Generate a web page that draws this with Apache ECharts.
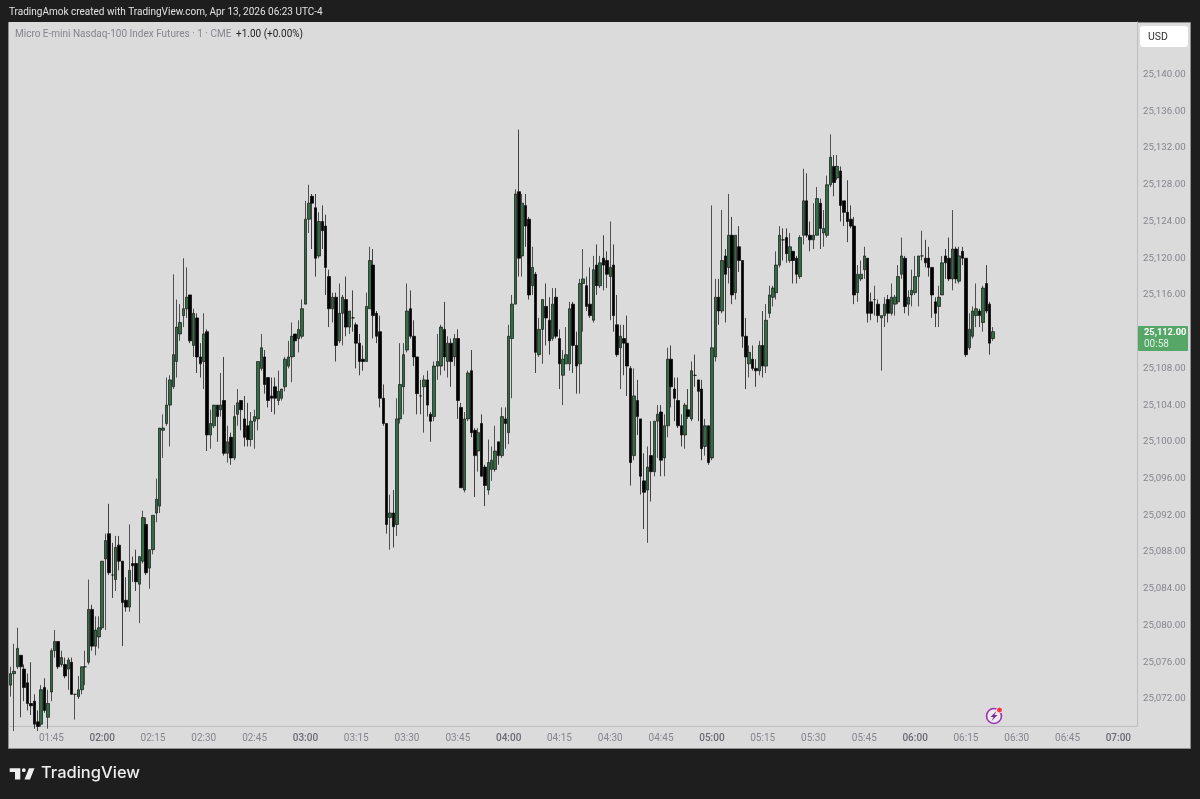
<!DOCTYPE html>
<html>
<head>
<meta charset="utf-8">
<style>html,body{margin:0;padding:0;background:#1e1e1e}#c{width:1200px;height:799px}</style>
<script src="https://cdn.jsdelivr.net/npm/echarts@6/dist/echarts.min.js"></script>
</head>
<body>
<div id="c"></div>
<script>
const priceBase = 25000;
const firstMinute = 93; // 01:33
const slotCount = 333;
const priceTicks = [25072,25076,25080,25084,25088,25092,25096,25100,25104,25108,25112,25116,25120,25124,25128,25132,25136,25140];
const timeTicks = ['01:45','02:00','02:15','02:30','02:45','03:00','03:15','03:30','03:45','04:00','04:15','04:30','04:45','05:00','05:15','05:30','05:45','06:00','06:15','06:30','06:45','07:00'];
const opens = [73.5,74.75,75.5,76.75,75.25,73.75,71.5,71.75,69.5,69.25,
73.25,70,72.75,77.25,78.25,75.75,75.75,75.25,76,72.5,
72.25,73,75.5,76,81.75,77.75,78.75,79.75,87.25,90,
85.5,85,88.75,87,82.75,82,86.75,86.75,84.5,87,
91,86.25,88.25,92.25,93,101.25,102,104,106,108.75,
111.75,113.75,114.5,116,110.5,113.5,109.25,108.75,112,100.75,
101.75,104,103.5,104.5,98.75,100.5,98.25,103,104.5,102.5,
101.75,100.25,102.25,102.5,108,109.25,107,105,106,104.5,
104.75,106,108.25,109.25,111.75,111.25,111.5,115,124.25,126.75,
125.5,120.25,124,123.5,118,114.5,115.75,111,114,115.5,
112.5,113.5,112.75,110.75,109,108.75,114.5,119.25,114,112,
104.75,102,91.75,92.25,91,102.5,106,110,114.5,111.5,
109.25,105,106,106.75,103,102.75,108.25,108.25,112.25,108.75,
110.75,109.25,111.25,103.75,94.75,102.5,107.75,101.25,99,102,
97.25,94.75,97,97,100,98.5,102.5,101,111.25,115,
127.25,120.25,125.75,124.25,117,118.25,109.5,112.25,114.75,113.25,
111.25,115.75,111.25,107.25,108.5,108.5,115,110.5,108.5,117.25,
117,115,113.25,119.25,117,120,119.75,118,119.25,112.75,
110.25,111.25,110.75,108,98.5,104.5,102.5,95.75,94.75,98.5,
96.75,102.25,103.25,98.25,101.75,109,105.75,104.5,101.75,100.75,
103.5,102.5,107.25,106.75,105.75,99.5,101.75,98.25,109.25,115.75,
114.25,120.25,119,122.5,116.25,121.25,119.75,111.5,108.5,109,
108,107.75,110.5,108.25,114,115.75,116.25,119.25,122,122.25,
119.75,120.75,120,118,122.5,126.25,122.5,122,122.5,126,
122.75,122.5,128,130,128.75,129.5,126.25,125,124.25,123.5,
116.25,117.75,118.75,120,115.25,115.5,115,113.5,113.75,115.5,
114,115,115.25,118.25,120,115,116,116.25,118,120.25,
120,120,119,115.25,114.75,116,120.25,120,117.75,121,
117.5,120.75,120,110.25,111.5,113.75,114.25,113,117.25,115,111.25];
const closes = [74.75,75,77.5,75.5,73.25,71.5,71.25,69.25,69,73,
70.75,71.5,77.25,78.25,75.5,76.5,74.5,76.25,72.5,72.5,
73,75.5,75.5,81.75,77.75,79.5,79.75,87,89.25,85.75,
85.5,88.5,87,82.5,82,86,86.5,84.75,87.5,91.75,
85.75,88.25,92,93.75,101.5,101.5,104,106.75,109.5,112.5,
113,114.5,115.75,111,114,109.25,108.5,111.75,100.75,102,
104,102.75,104,98.75,100,98.25,102.75,104.25,103.5,100.5,
100.25,102.25,102.75,108.75,110.25,106.25,104.5,104.75,104.75,105.5,
105.75,109,109.25,111.5,111,112.25,114.5,124.25,126,126,
120,124,123,119,114.5,115.75,110.5,114,115.75,112.5,
114.25,113.5,110.75,108.75,108.75,114.75,119.75,113.75,111.5,104.75,
102,91,92.25,90.75,102.5,106.25,109.5,114.25,111.5,109.25,
105.25,105,106.75,104,102.25,108.25,108.75,112.5,109.25,110.75,
108.75,111.25,104.5,95,102.5,107.5,101,98.5,101,96.25,
95.25,97.75,98,99,98.5,102.75,102,111.5,115,127,
120,126,123.5,116,119,109.75,112.25,115.5,113.5,111,
115,111.5,108.5,109,109.5,114.5,110.5,108.25,117.25,117.75,
114.75,113.75,118.75,117,119.5,119.25,118.25,119,113.75,109.5,
111.5,110.75,108.25,97.75,105,102.75,96.25,94.5,97.25,96.75,
102.25,103,98,101.75,109,106,104.75,101.75,100.75,104,
102.75,107.75,107.25,105.5,99.25,101.75,97.75,110.25,115.75,114.25,
119.75,118.25,122.5,116,122.5,119.75,111.5,109.25,109.75,108,
107.75,110.5,108.25,113.25,116,116.75,119.25,122.5,122,120.5,
121.25,119.75,118.25,122.25,126.25,122.5,122,122.5,126.5,123.25,
123.25,128,131,128.25,130,125.75,125,124,123.5,116,
118.25,118.25,120.25,114,114,115.5,113.75,113.75,115,114,
115.75,115.75,118,120.25,114.75,115.75,116.5,118,120.25,120.25,
119.5,119,116,114,115.75,119.5,119.5,117.75,121,117.75,
120.25,120,109.5,112.25,114.25,114.5,113.75,116.75,114.25,110.75,112];
const lows = [72.25,68.5,75.25,70,71.75,70.75,70.25,68.75,68.5,69,
70.5,68.75,71.75,76.5,75.25,75.5,74.25,73,72.5,69.75,
72,72.5,73.5,75.75,77.25,76.75,77.5,79.5,79.5,85.5,
83,83.75,86,77.75,81.5,81.5,84.75,83.75,80.25,86.75,
85.5,84,87.75,91.25,92.25,98.25,101.75,99.5,105.75,107,
111,112.5,113.5,110.75,109.25,107.5,107,105.75,99,99.25,
101.5,100,102.75,98.5,97.75,97.5,98,101.75,101.25,99.5,
99.5,99.5,99.25,101.25,107.75,105.25,103.75,103.25,103,104,
104.5,105.5,108,106.5,109.25,109.75,111.25,115,122.75,121,
118,120,121,116,112.5,113,108.75,110.75,110.5,111.5,
111.75,112,108,107.25,107.75,108.75,114.5,111.25,110.75,103.75,
101.75,90,88.25,88.5,89.75,102,103,109.75,111.25,108.25,
103,103,101,102.75,100,102.25,106.75,107.25,107.75,107,
106,108.25,102.5,95,94.5,102.25,100.5,94,96.75,96.25,
93,94.25,95.75,96.75,97.5,98.25,99.25,99.75,104.75,115,
118,118,121.25,115.5,116,107.5,109.25,108.5,110.5,109.5,
111,111.25,105.75,104,108.5,107.75,107.5,105.25,105.25,112,
114.25,113.5,113,116,116.75,116.5,116.75,113.25,112,109.25,
105.75,107.25,105,95.25,98,100.75,94.25,90.5,89,93.5,
96.25,98.25,96.25,96.25,100.5,103.75,102.25,101.5,99.5,99.25,
102.5,102.25,106,102.25,98,98.5,97.5,98,108.75,112.75,
114,113,117.25,115,115.5,118.5,110.25,105.75,107,107.75,
106,107.25,107,107.5,113.5,114.75,115.5,119,119.75,119.5,
119.5,117.25,117.25,117.75,121.5,122.25,120.75,121,122.5,121,
121.25,122.25,127.75,126.75,128.5,124,123.5,121.75,123.25,115,
115.25,117.5,117.75,113,113.25,113.75,113,107.75,112.5,113,
113.75,113.75,115,117.75,114,113.75,114.75,116,114.75,119.75,
119,118,113.5,112.5,112.5,116,117.75,117.5,116.5,117.25,
117.25,119.25,109.25,110,111.25,112.5,112.5,112,114,109.5,111];
const highs = [75.5,78,79.75,76.75,75.75,74.75,76,72.5,70.75,73.5,
74.25,73,77.5,79.5,78.25,77.25,76.5,76.5,76.5,72.5,
74.5,75.5,77.25,85,82.25,81,81,87,90,93.25,
89,89.75,89.75,87,85.25,91,87.5,88.25,87.5,92.5,
91.75,88.25,92,96,101.5,103,107,107.25,118.25,115.5,
115,120,119,116,114.5,114,110.75,114,112.25,103.5,
104,104,107.5,109.25,101.75,101,104,105.75,104.5,105,
104.25,103.25,103.5,108.75,111.75,110,107,107,107,107.75,
105.75,109.25,111,113,111.75,113.25,115.5,126.25,128,127,
127,125,125.75,124.75,118.75,116.25,116.25,117.25,116,118,
114.25,116.5,113,111.75,110.5,116.25,121.25,121,114.25,113.75,
106.25,102,94.25,94.75,104.75,110.75,110.75,117.25,116.5,113.25,
109.25,106.75,107.25,107.75,103.25,108.75,111.75,112.75,115.25,111.5,
111.25,111.75,112.25,104.25,103.25,107.75,110,101.5,101.5,103,
97.5,100.25,99.5,101.75,100,103.75,103.75,112.75,116,127.5,
134,127,127,124.5,121.25,118.5,113.5,115.5,117.25,115.75,
116.75,116.75,112.25,110,112.5,115.25,115.25,112,117.75,121,
118,119,120.25,121.5,120.25,122.5,120.75,124,121.5,116,
112.75,112.75,113.75,108.25,108,106.75,102.5,98.75,99.5,102.25,
102.25,104,104,103,110.25,110.5,107,107,103,104.25,
105.75,108.75,109.5,106.75,106.75,102.5,101.75,125.75,117.75,117.75,
125.25,121,127,124.5,122.5,123.5,119.75,113.5,110.5,110.5,
109,111,114.25,115,117,117,120.75,123.5,123.25,123.25,
122.75,120.75,120.25,122.5,129.75,129.25,124,126,127.75,126.5,
125.25,129,133.5,131.25,131.25,130,126.25,128.5,125.75,124.5,
119.25,119.75,121.25,120,116.25,117,115.5,113.75,115.75,116,
117.25,116,119.25,122.25,120.25,116.5,118.75,120.25,120.25,123,
122,121.25,119,115.75,117,120.25,121,122.25,125.25,121.25,
121.25,121.25,120,114,114.75,117.25,114.5,117,119.25,115.25,112.5];

const pad = n => String(n).padStart(2, '0');
const categories = Array.from({length: slotCount}, (_, i) => {
  const m = firstMinute + i;
  return pad(Math.floor(m / 60)) + ':' + pad(m % 60);
});
const candles = opens.map((o, i) => [o + priceBase, closes[i] + priceBase, lows[i] + priceBase, highs[i] + priceBase]);
const fontName = 'Roboto, "Liberation Sans", sans-serif';
const labelGrey = '#85858e';

const chart = echarts.init(document.getElementById('c'), null, {renderer: 'canvas'});
chart.setOption({
  animation: false,
  backgroundColor: '#1e1e1e',
  grid: {left: 9, right: 63, top: 22, bottom: 73, show: true, backgroundColor: '#dbdbdb', borderWidth: 0},
  xAxis: {
    type: 'category', data: categories, boundaryGap: true,
    axisLine: {show: true, lineStyle: {color: '#bdbdbd', width: 1}},
    axisTick: {show: false}, splitLine: {show: false},
    axisLabel: {
      interval: (i, v) => timeTicks.includes(v), hideOverlap: false, margin: 7,
      fontFamily: fontName, fontSize: 10, color: labelGrey,
      formatter: v => v.endsWith(':00') ? '{h|' + v + '}' : v,
      rich: {h: {fontFamily: fontName, fontSize: 10, color: '#6a6a73', fontWeight: 500}}
    }
  },
  yAxis: {
    type: 'value', position: 'right', min: 25069.05, max: 25145.73, scale: true,
    axisLine: {show: true, lineStyle: {color: '#bdbdbd', width: 1}},
    axisTick: {show: false}, splitLine: {show: false},
    axisLabel: {
      customValues: priceTicks, margin: 6, padding: [2, 0, 0, 0], fontFamily: fontName, fontSize: 9.7, color: labelGrey,
      formatter: v => v.toLocaleString('en-US', {minimumFractionDigits: 2, maximumFractionDigits: 2})
    }
  },
  series: [{
    type: 'candlestick', data: candles, barWidth: 3, clip: true,
    itemStyle: {color: '#2f6d42', color0: '#000000', borderColor: '#141414', borderColor0: '#000000', borderWidth: 0.7}
  }],
  graphic: [
    {type: 'rect', z: -1, shape: {x: 8.5, y: 22.5, width: 1182, height: 726}, style: {fill: '#dbdbdb', stroke: '#8e8e8e', lineWidth: 1}},
    {type: 'text', z: 10, x: 9, y: 7, style: {text: 'TradingAmok created with TradingView.com, Apr 13, 2026 06:23 UTC-4', fill: '#e2e2e2', font: '10px ' + fontName}},
    {type: 'text', z: 10, x: 15, y: 29, style: {text: 'Micro E-mini Nasdaq-100 Index Futures · 1 · CME', fill: '#85858e', font: '10px ' + fontName}},
    {type: 'text', z: 10, x: 236, y: 29, style: {text: '+1.00 (+0.00%)', fill: '#222222', font: '10px ' + fontName}},
    {type: 'rect', z: 10, shape: {x: 1140, y: 26, width: 48, height: 21, r: 3}, style: {fill: '#ffffff'}},
    {type: 'text', z: 11, x: 1148, y: 31.5, style: {text: 'USD', fill: '#333333', font: '10.5px ' + fontName}},
    {type: 'rect', z: 10, shape: {x: 1138, y: 326, width: 50, height: 25, r: 1}, style: {fill: '#55a667'}},
    {type: 'text', z: 11, x: 1144, y: 328, style: {text: '25,112.00', fill: '#ffffff', font: 'bold 9.3px ' + fontName}},
    {type: 'text', z: 11, x: 1144, y: 339, style: {text: '00:58', fill: '#dff0e2', font: '10px ' + fontName}},
    {type: 'circle', z: 10, shape: {cx: 994, cy: 716, r: 7.5}, style: {fill: '#ececec', stroke: '#9c2fb5', lineWidth: 1.6}},
    {type: 'polygon', z: 11, shape: {points: [[996.5,711],[990.5,717],[993.5,717],[991.5,721],[997.5,715],[994.5,715]]}, style: {fill: '#7a2a96'}},
    {type: 'circle', z: 12, shape: {cx: 999.5, cy: 710, r: 3}, style: {fill: '#f23645', stroke: '#ececec', lineWidth: 1}},
    {type: 'polygon', z: 10, shape: {points: [[9.7,768.3],[20.3,768.3],[20.3,779.5],[15,779.5],[15,772],[9.7,772]]}, style: {fill: '#eeeeee'}},
    {type: 'circle', z: 10, shape: {cx: 23.8, cy: 770.2, r: 1.9}, style: {fill: '#eeeeee'}},
    {type: 'polygon', z: 10, shape: {points: [[29,768.3],[34.5,768.3],[30,779.5],[24.5,779.5]]}, style: {fill: '#eeeeee'}},
    {type: 'text', z: 10, x: 41, y: 765, style: {text: 'TradingView', fill: '#eeeeee', font: '500 16.5px Inter, ' + fontName}}
  ]
});
</script>
</body>
</html>
